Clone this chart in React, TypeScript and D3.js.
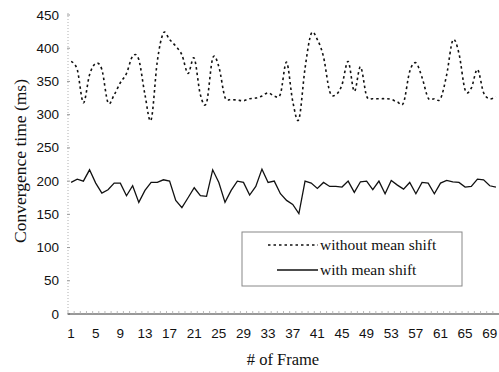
import { useEffect, useRef } from "react";
import * as d3 from "d3";

// frame numbers 1..70
const frames: number[] = Array.from({ length: 70 }, (_, i) => i + 1);

// convergence time without mean shift (ms)
const withoutMeanShift: number[] = [
  380, 368, 318, 360, 377, 368, 318, 330, 348, 362,
  388, 383, 330, 292, 380, 423, 413, 403, 390, 362,
  385, 330, 318, 385, 372, 326, 323, 322, 321, 324,
  325, 328, 333, 328, 331, 379, 320, 293, 370, 422,
  413, 387, 335, 330, 345, 380, 335, 372, 328, 324,
  324, 324, 323, 319, 318, 365, 378, 356, 325, 324,
  324, 360, 412, 392, 337, 340, 368, 333, 324, 327,
];

// convergence time with mean shift (ms)
const withMeanShift: number[] = [
  198, 203, 200, 217, 197, 182, 187, 197, 197, 178,
  193, 168, 186, 198, 198, 202, 200, 171, 160, 175,
  190, 178, 177, 217, 198, 168, 186, 200, 198, 179,
  192, 218, 198, 200, 181, 171, 165, 151, 200, 197,
  189, 198, 192, 192, 191, 200, 183, 199, 200, 187,
  200, 181, 201, 194, 188, 198, 181, 198, 197, 181,
  197, 201, 199, 198, 191, 192, 203, 202, 193, 191,
];

const yTicks: number[] = [0, 50, 100, 150, 200, 250, 300, 350, 400, 450];
const xTickLabels: number[] = frames.filter((f) => (f - 1) % 4 === 0);

const legendLabels: string[] = ["without mean shift", "with mean shift"];

function Chart() {
  const svgRef = useRef<SVGSVGElement | null>(null);

  useEffect(() => {
    const svg = d3.select(svgRef.current);
    svg.selectAll("*").remove();

    const sans = "'Liberation Sans', Arial, sans-serif";
    const serif = "'Liberation Serif', 'Times New Roman', serif";

    // plot area
    const left = 68;
    const right = 499;
    const top = 15;
    const bottom = 314;

    const x = d3.scaleBand<number>().domain(frames).range([left, right]);
    const cx = (f: number) => (x(f) as number) + x.bandwidth() / 2;
    const y = d3.scaleLinear().domain([0, 450]).range([bottom, top]);

    // y axis: faint dotted line with short ticks
    svg.append("line")
      .attr("x1", left).attr("x2", left)
      .attr("y1", top - 2).attr("y2", bottom)
      .attr("stroke", "#b0b0b0")
      .attr("stroke-dasharray", "1,2");

    svg.append("g")
      .selectAll("line")
      .data(yTicks)
      .join("line")
      .attr("x1", left - 1).attr("x2", left + 2)
      .attr("y1", (d) => y(d)).attr("y2", (d) => y(d))
      .attr("stroke", "#999");

    svg.append("g")
      .selectAll("text")
      .data(yTicks)
      .join("text")
      .attr("x", 59)
      .attr("y", (d) => y(d) + 4.5)
      .attr("text-anchor", "end")
      .attr("font-family", sans)
      .attr("font-size", 13.5)
      .attr("fill", "#111")
      .text((d) => d);

    // x axis line and small ticks
    svg.append("line")
      .attr("x1", left).attr("x2", right)
      .attr("y1", bottom).attr("y2", bottom)
      .attr("stroke", "#333")
      .attr("stroke-width", 1);

    svg.append("g")
      .selectAll("line")
      .data(frames)
      .join("line")
      .attr("x1", (d) => x(d) as number).attr("x2", (d) => x(d) as number)
      .attr("y1", bottom - 3).attr("y2", bottom)
      .attr("stroke", "#aaa")
      .attr("stroke-width", 0.8);

    svg.append("g")
      .selectAll("text")
      .data(xTickLabels)
      .join("text")
      .attr("x", (d) => cx(d))
      .attr("y", 338)
      .attr("text-anchor", "middle")
      .attr("font-family", sans)
      .attr("font-size", 13.5)
      .attr("fill", "#111")
      .text((d) => d);

    // axis titles
    svg.append("text")
      .attr("transform", "translate(26,161) rotate(-90)")
      .attr("text-anchor", "middle")
      .attr("font-family", serif)
      .attr("font-size", 17.5)
      .attr("fill", "#111")
      .text("Convergence time (ms)");

    svg.append("text")
      .attr("x", 283)
      .attr("y", 365)
      .attr("text-anchor", "middle")
      .attr("font-family", serif)
      .attr("font-size", 16.5)
      .attr("fill", "#111")
      .text("# of Frame");

    // series
    const smooth = d3.line<number>()
      .x((_, i) => cx(frames[i]))
      .y((d) => y(d))
      .curve(d3.curveCatmullRom.alpha(0));

    const straight = d3.line<number>()
      .x((_, i) => cx(frames[i]))
      .y((d) => y(d));

    svg.append("path")
      .datum(withoutMeanShift)
      .attr("d", smooth)
      .attr("fill", "none")
      .attr("stroke", "#111")
      .attr("stroke-width", 1.6)
      .attr("stroke-dasharray", "2.5,3");

    svg.append("path")
      .datum(withMeanShift)
      .attr("d", straight)
      .attr("fill", "none")
      .attr("stroke", "#111")
      .attr("stroke-width", 1.3);

    // legend
    const legend = svg.append("g");
    legend.append("rect")
      .attr("x", 242).attr("y", 232)
      .attr("width", 220).attr("height", 54)
      .attr("fill", "white")
      .attr("stroke", "#888")
      .attr("stroke-width", 1);

    legend.append("line")
      .attr("x1", 268).attr("x2", 318)
      .attr("y1", 245).attr("y2", 245)
      .attr("stroke", "#111")
      .attr("stroke-width", 1.3)
      .attr("stroke-dasharray", "2.5,3");

    legend.append("line")
      .attr("x1", 277).attr("x2", 318)
      .attr("y1", 270).attr("y2", 270)
      .attr("stroke", "#111")
      .attr("stroke-width", 1.3);

    legend.selectAll("text")
      .data(legendLabels)
      .join("text")
      .attr("x", 320)
      .attr("y", (_, i) => 250 + i * 25)
      .attr("font-family", serif)
      .attr("font-size", 15.5)
      .attr("fill", "#111")
      .text((d) => d);
  }, []);

  return (
    <svg
      ref={svgRef}
      width={499}
      height={372}
      style={{ position: "absolute", left: 0, top: 0, background: "white" }}
    />
  );
}

export default function App() {
  return <Chart />;
}
